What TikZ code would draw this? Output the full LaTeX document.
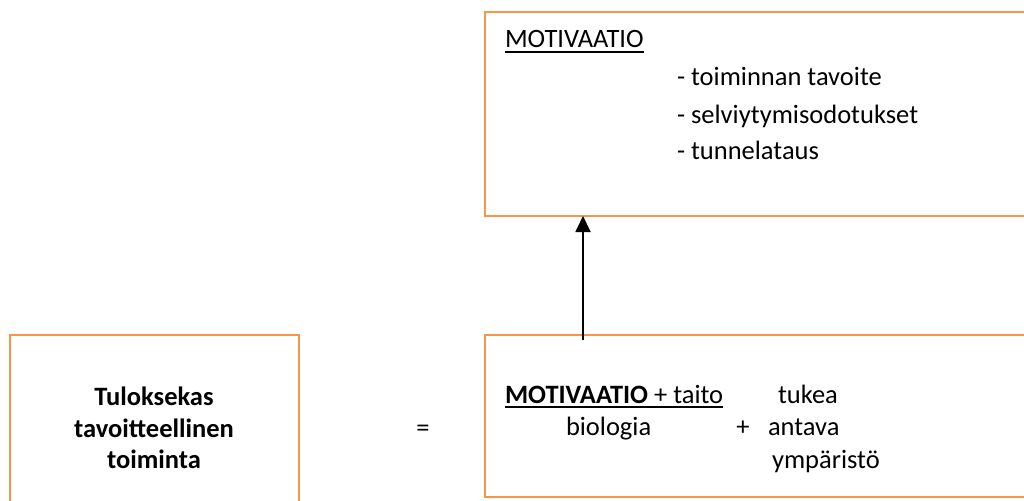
\documentclass[tikz,border=0pt]{standalone}
\usepackage{fontspec}
\setmainfont{Carlito}
\usetikzlibrary{arrows.meta}
\definecolor{boxorange}{HTML}{F79646}
% underline drawn as a rule below the text
\newcommand{\ulbox}[1]{\vtop{\hbox{#1}\kern3pt\hrule height 1.8pt}}

\begin{document}
\begin{tikzpicture}[x=1pt,y=-1pt,
  panel/.style={draw=boxorange, line width=1.6pt, rectangle, anchor=north west, inner sep=0pt, outer sep=0pt},
  txt/.style={inner sep=0pt, outer sep=0pt, anchor=base west, font=\fontsize{26.5}{31}\selectfont},
  ctxt/.style={txt, anchor=base, font=\fontsize{26.5}{31}\selectfont\bfseries},
  link/.style={draw=black, line width=1.8pt, -{Triangle[length=16pt,width=15pt]}}]
\useasboundingbox (0,0) rectangle (1024,500);

% the three boxes
\node[panel, minimum width=560pt, minimum height=204pt] (motbox) at (485,12) {};
\node[panel, minimum width=289pt, minimum height=200pt] (resbox) at (10,335) {};
\node[panel, minimum width=560pt, minimum height=162pt] (eqbox) at (485,335) {};

% motivation box contents
\node[txt] (mothead) at (505,48) {\ulbox{MOTIVAATIO}};
\node[txt] (item1) at (677,86) {- toiminnan tavoite};
\node[txt] (item2) at (677,123) {- selviytymisodotukset};
\node[txt] (item3) at (677,159) {- tunnelataus};

% result box contents
\node[ctxt] (res1) at (154,405) {Tuloksekas};
\node[ctxt] (res2) at (154,437) {tavoitteellinen};
\node[ctxt] (res3) at (154,468) {toiminta};

% equals sign
\node[txt, anchor=base] (eqsign) at (423,436) {=};

% equation box contents
\node[txt] (eqhead) at (505,403) {\ulbox{\textbf{MOTIVAATIO} + taito}};
\node[txt] (eqtukea) at (778,403) {tukea};
\node[txt] (eqbio) at (566,435) {biologia};
\node[txt, anchor=base] (eqplus) at (743,435) {+};
\node[txt] (eqantava) at (768,435) {antava};
\node[txt] (eqymp) at (772,468) {ympäristö};

% arrow from the equation box up to the motivation box
\coordinate (arrowfoot) at (583,340);
\draw[link] (arrowfoot) -- (arrowfoot |- motbox.south);
\end{tikzpicture}
\end{document}
